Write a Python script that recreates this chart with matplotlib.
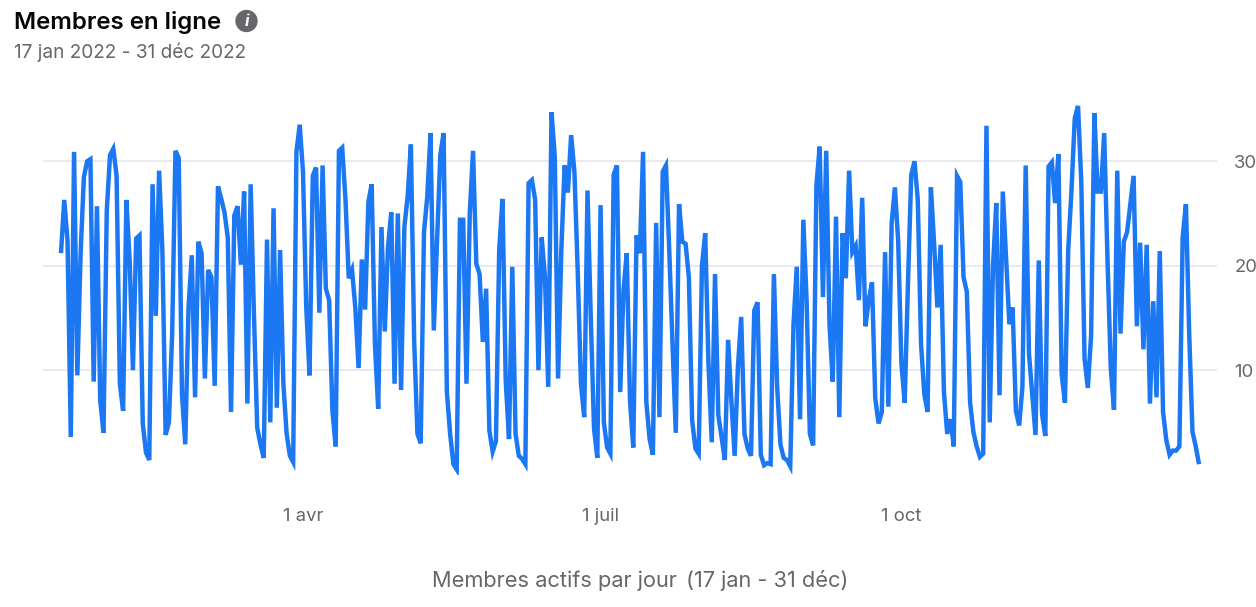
import numpy as np
import matplotlib
matplotlib.use("Agg")
import matplotlib.pyplot as plt
import matplotlib.dates as mdates

# Données (membres actifs par jour)
jours = np.datetime64("2022-01-17") + np.arange(349)
membres = [
    21.2, 26.3, 22.4, 3.6, 30.9, 9.5, 21.2, 28.5, 30.0, 30.2,
    8.9, 25.7, 7.1, 4.0, 25.3, 30.6, 31.2, 28.6, 8.7, 6.1,
    26.3, 20.5, 10.0, 22.6, 22.9, 4.9, 2.1, 1.4, 27.8, 15.2,
    29.1, 21.5, 3.8, 5.0, 13.5, 31.0, 30.3, 7.7, 2.9, 16.0,
    21.0, 7.4, 22.3, 21.2, 9.2, 19.6, 18.9, 8.5, 27.6, 26.4,
    25.1, 22.7, 6.0, 24.8, 25.7, 20.1, 27.1, 6.8, 27.8, 15.4,
    4.5, 2.9, 1.6, 22.5, 5.0, 25.5, 6.4, 21.5, 8.7, 3.9,
    1.8, 1.2, 30.9, 33.5, 29.0, 16.0, 9.5, 28.6, 29.4, 15.5,
    29.6, 17.8, 16.7, 6.1, 2.7, 31.0, 31.3, 26.3, 18.8, 19.6,
    16.0, 10.2, 20.6, 15.8, 26.1, 27.8, 12.5, 6.3, 23.7, 13.7,
    21.8, 25.1, 8.7, 25.0, 8.1, 23.7, 26.6, 31.6, 12.8, 3.9,
    3.0, 23.2, 26.6, 32.7, 13.8, 22.4, 30.6, 32.7, 7.9, 3.9,
    1.0, 0.5, 24.4, 24.4, 8.7, 25.0, 31.0, 20.2, 19.2, 12.7,
    17.8, 4.2, 2.2, 3.2, 21.5, 26.4, 9.0, 3.4, 19.9, 3.9,
    1.8, 1.5, 1.0, 27.9, 28.2, 26.3, 10.0, 22.7, 18.9, 8.4,
    34.7, 30.4, 9.2, 21.5, 29.6, 27.0, 32.5, 29.0, 19.6, 8.7,
    5.5, 27.2, 15.1, 4.4, 1.6, 25.8, 5.0, 2.6, 2.0, 28.7,
    29.6, 7.9, 17.6, 21.2, 7.1, 2.6, 22.9, 21.2, 30.9, 6.9,
    3.4, 1.9, 24.1, 5.5, 29.0, 29.6, 21.5, 12.5, 4.0, 25.9,
    22.3, 22.1, 18.9, 5.2, 2.5, 2.0, 20.0, 23.1, 10.6, 3.1,
    19.2, 5.7, 3.6, 1.4, 12.9, 7.1, 1.8, 10.3, 15.1, 3.9,
    2.5, 1.8, 15.7, 16.5, 1.9, 0.9, 1.1, 1.0, 19.2, 8.4,
    2.9, 1.6, 1.4, 0.8, 14.4, 19.9, 5.3, 24.4, 16.7, 3.9,
    2.8, 27.7, 31.4, 17.0, 31.0, 14.4, 8.9, 24.7, 5.5, 23.1,
    18.8, 29.1, 21.3, 21.9, 16.7, 26.5, 14.2, 16.7, 18.4, 7.3,
    4.9, 6.0, 21.3, 6.5, 24.0, 27.5, 22.4, 10.6, 6.9, 18.3,
    28.7, 30.0, 26.3, 12.5, 7.7, 6.0, 27.5, 22.1, 16.0, 22.0,
    7.9, 3.9, 5.3, 2.7, 28.6, 28.0, 18.9, 17.5, 6.9, 4.1,
    2.7, 1.7, 2.0, 33.4, 5.0, 19.9, 26.0, 7.6, 27.1, 20.8,
    14.4, 16.0, 6.1, 4.7, 8.4, 29.6, 11.6, 7.7, 3.8, 20.5,
    5.8, 3.7, 29.5, 29.9, 26.0, 30.7, 9.6, 6.9, 21.5, 27.2,
    34.1, 35.3, 28.0, 11.1, 8.3, 13.3, 34.6, 27.1, 27.1, 32.7,
    20.8, 10.3, 6.2, 29.1, 13.5, 22.3, 23.2, 25.9, 28.6, 14.2,
    22.2, 12.0, 22.0, 6.8, 16.6, 7.4, 21.4, 6.0, 3.3, 1.9,
    2.3, 2.3, 2.7, 22.7, 25.9, 13.5, 4.1, 2.7, 1.0,
]
graduations_y = [10, 20, 30]
dates_x = ["2022-04-01", "2022-07-01", "2022-10-01"]
etiquettes_x = ["1 avr", "1 juil", "1 oct"]

plt.rcParams["font.family"] = ["Inter", "Liberation Sans", "DejaVu Sans"]

L, H = 1256, 607
fig = plt.figure(figsize=(L / 100, H / 100), dpi=100)

# Axes placés en pixels : x 43 -> 1217, y=0 à 474.6 px
gauche, droite, haut, bas = 43, 1217, 98.6, 474.6
ax = fig.add_axes([gauche / L, 1 - bas / H, (droite - gauche) / L, (bas - haut) / H])

ax.plot(jours.astype("datetime64[D]").astype("O"), membres, color="#1b77f2", lw=3.2,
        solid_joinstyle="miter", solid_capstyle="butt", zorder=3)

debut = mdates.date2num(np.datetime64("2022-01-17"))
ax.set_xlim(debut - 5.5, debut + 353.5)
ax.set_ylim(0, 36)

ax.set_yticks(graduations_y)
ax.yaxis.tick_right()
ax.set_xticks(mdates.date2num(np.array(dates_x, dtype="datetime64[D]")))
ax.set_xticklabels(etiquettes_x)
ax.tick_params(axis="both", length=0, labelsize=13.3, labelcolor="#65676b")
ax.tick_params(axis="x", pad=24)
ax.tick_params(axis="y", pad=12.5)
ax.grid(axis="y", color="#e9e9f0", lw=1.5)
ax.set_axisbelow(True)
for s in ax.spines.values():
    s.set_visible(False)

# Titre et sous-titre
fig.text(14 / L, 1 - 22.5 / H, "Membres en ligne", fontsize=17.3, fontweight="semibold",
         color="#050505", va="center")
fig.text(14 / L, 1 - 52 / H, "17 jan 2022 - 31 déc 2022", fontsize=13.7, color="#65676b", va="center")
fig.text(246.5 / L, 1 - 21 / H, "i", fontsize=12, fontweight="bold", style="italic", color="white",
         ha="center", va="center",
         bbox=dict(boxstyle="circle,pad=0.22", fc="#65676b", ec="none"))

# Légende du bas
fig.text(432 / L, 1 - 580.5 / H, "Membres actifs par jour", fontsize=15.7, color="#65676b", va="center")
fig.text(686 / L, 1 - 580.5 / H, "(17 jan - 31 déc)", fontsize=15.7, color="#65676b", va="center")

fig.savefig("out.png", dpi=100)
plt.close(fig)
